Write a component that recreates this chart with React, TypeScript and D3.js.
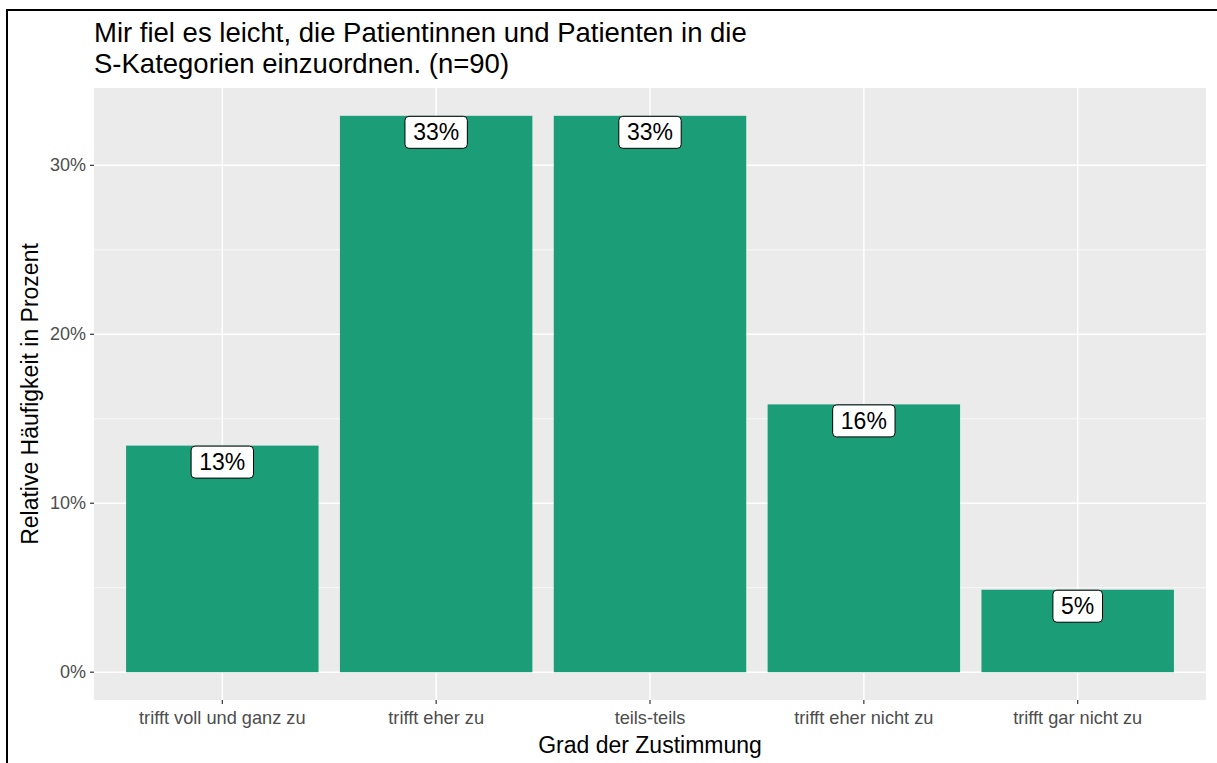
import React from "react";
import * as d3 from "d3";

const categories = [
  "trifft voll und ganz zu",
  "trifft eher zu",
  "teils-teils",
  "trifft eher nicht zu",
  "trifft gar nicht zu",
];
const percents = [13.41, 32.93, 32.93, 15.85, 4.88];
const labels = ["13%", "33%", "33%", "16%", "5%"];
const yTicks = [0, 10, 20, 30];
const yMinor = [5, 15, 25];
const titleLines = [
  "Mir fiel es leicht, die Patientinnen und Patienten in die",
  "S-Kategorien einzuordnen. (n=90)",
];

const W = 1217;
const H = 763;
const panel = { left: 94, right: 1206, top: 88, bottom: 700 };
const font = "'Liberation Sans', Arial, sans-serif";

export default function App() {
  const maxV = d3.max(percents) as number;
  const pad = maxV * 0.05;
  const y = d3.scaleLinear().domain([-pad, maxV + pad]).range([panel.bottom, panel.top]);
  const n = categories.length;
  const x = d3
    .scalePoint<string>()
    .domain(categories)
    .range([panel.left, panel.right])
    .padding(0.6);
  const step = x.step();
  const bw = 0.9 * step;

  return (
    <svg
      width={W}
      height={H}
      style={{ position: "absolute", left: 0, top: 0, background: "white" }}
      fontFamily={font}
    >
      <rect x={0} y={0} width={W} height={H} fill="white" />
      {/* outer frame */}
      <line x1={7} y1={10} x2={W + 5} y2={10} stroke="black" strokeWidth={2} />
      <line x1={7} y1={9} x2={7} y2={H + 5} stroke="black" strokeWidth={2} />

      {/* title */}
      {titleLines.map((t, i) => (
        <text key={i} x={94} y={42 + i * 31} fontSize={27.5} fill="black">
          {t}
        </text>
      ))}

      {/* panel */}
      <rect
        x={panel.left}
        y={panel.top}
        width={panel.right - panel.left}
        height={panel.bottom - panel.top}
        fill="#EBEBEB"
      />
      {yMinor.map((v) => (
        <line
          key={"m" + v}
          x1={panel.left}
          x2={panel.right}
          y1={y(v)}
          y2={y(v)}
          stroke="white"
          strokeWidth={0.7}
        />
      ))}
      {yTicks.map((v) => (
        <line
          key={"g" + v}
          x1={panel.left}
          x2={panel.right}
          y1={y(v)}
          y2={y(v)}
          stroke="white"
          strokeWidth={1.5}
        />
      ))}
      {categories.map((c) => (
        <line
          key={"vx" + c}
          x1={x(c)}
          x2={x(c)}
          y1={panel.top}
          y2={panel.bottom}
          stroke="white"
          strokeWidth={1.5}
        />
      ))}

      {/* bars */}
      {categories.map((c, i) => (
        <rect
          key={"b" + c}
          x={(x(c) as number) - bw / 2}
          y={y(percents[i])}
          width={bw}
          height={y(0) - y(percents[i])}
          fill="#1B9E77"
        />
      ))}

      {/* labels */}
      {categories.map((c, i) => {
        const w = labels[i].length * 12.8 + 24;
        const top = y(percents[i]) + 0.5;
        const cx = x(c) as number;
        return (
          <g key={"l" + c}>
            <rect
              x={cx - w / 2}
              y={top}
              width={w}
              height={32}
              rx={4}
              ry={4}
              fill="white"
              stroke="black"
              strokeWidth={1}
            />
            <text
              x={cx}
              y={top + 24}
              textAnchor="middle"
              fontSize={23}
              fill="black"
            >
              {labels[i]}
            </text>
          </g>
        );
      })}

      {/* y axis */}
      {yTicks.map((v) => (
        <g key={"yt" + v}>
          <line
            x1={panel.left - 4}
            x2={panel.left}
            y1={y(v)}
            y2={y(v)}
            stroke="#333333"
            strokeWidth={1.2}
          />
          <text
            x={panel.left - 8}
            y={y(v) + 6}
            textAnchor="end"
            fontSize={18}
            fill="#4D4D4D"
          >
            {v + "%"}
          </text>
        </g>
      ))}
      {/* x axis */}
      {categories.map((c) => (
        <g key={"xt" + c}>
          <line
            x1={x(c)}
            x2={x(c)}
            y1={panel.bottom}
            y2={panel.bottom + 4}
            stroke="#333333"
            strokeWidth={1.2}
          />
          <text
            x={x(c)}
            y={panel.bottom + 24}
            textAnchor="middle"
            fontSize={18.2}
            fill="#4D4D4D"
          >
            {c}
          </text>
        </g>
      ))}

      <text
        x={(panel.left + panel.right) / 2}
        y={753}
        textAnchor="middle"
        fontSize={23}
        fill="black"
      >
        Grad der Zustimmung
      </text>
      <text
        transform={`translate(38, ${(panel.top + panel.bottom) / 2}) rotate(-90)`}
        textAnchor="middle"
        fontSize={23}
        fill="black"
      >
        Relative Häufigkeit in Prozent
      </text>
    </svg>
  );
}
